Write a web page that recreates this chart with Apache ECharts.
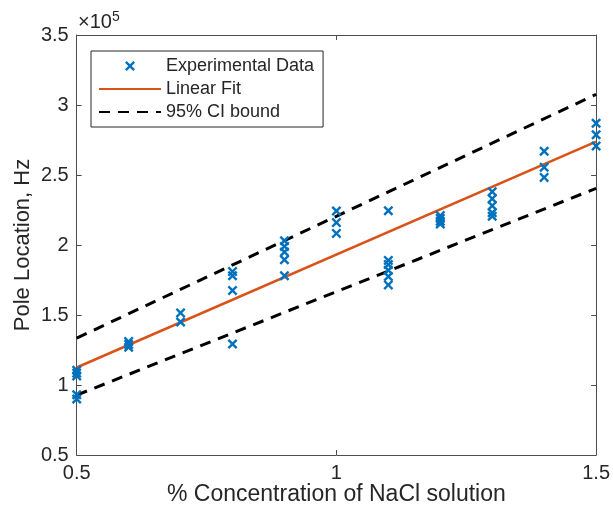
<!DOCTYPE html>
<html>
<head>
<meta charset="UTF-8">
<title>Pole location vs NaCl concentration</title>
<style>
  html, body { margin: 0; padding: 0; background: #fff; }
  #chart { width: 613px; height: 516px; }
</style>
</head>
<body>
<div id="chart"></div>
<script src="https://cdn.jsdelivr.net/npm/echarts@6/dist/echarts.min.js"></script>
<script>
// measured points: % NaCl concentration and pole location (units of 1e5 Hz)
var concentration = [
  0.5, 0.5, 0.5, 0.5, 0.5,
  0.6, 0.6, 0.6,
  0.7, 0.7,
  0.8, 0.8, 0.8, 0.8,
  0.9, 0.9, 0.9, 0.9, 0.9,
  1.0, 1.0, 1.0,
  1.1, 1.1, 1.1, 1.1, 1.1, 1.1,
  1.2, 1.2, 1.2, 1.2,
  1.3, 1.3, 1.3, 1.3, 1.3,
  1.4, 1.4, 1.4,
  1.5, 1.5, 1.5
];
var poleLocation = [
  1.105, 1.085, 1.065, 0.93, 0.90,
  1.31, 1.29, 1.27,
  1.515, 1.45,
  1.81, 1.78, 1.675, 1.293,
  2.03, 1.99, 1.95, 1.895, 1.78,
  2.243, 2.16, 2.083,
  2.245, 1.89, 1.86, 1.82, 1.775, 1.715,
  2.21, 2.19, 2.17, 2.15,
  2.38, 2.33, 2.28, 2.23, 2.205,
  2.67, 2.555, 2.483,
  2.87, 2.787, 2.707
];

// fit and confidence bounds, read at both ends of the x range
var lineX = [0.5, 1.5];
var fitY = [1.125, 2.738];
var ciUpperY = [1.335, 3.076];
var ciLowerY = [0.928, 2.405];

var xTicks = [0.5, 1, 1.5];
var yTicks = [0.5, 1, 1.5, 2, 2.5, 3, 3.5];

function pairs(xs, ys) {
  var res = [];
  for (var i = 0; i < xs.length; i++) res.push([xs[i], ys[i]]);
  return res;
}

var textColor = '#262626';
var axisColor = '#4d4d4d';
var font = '"Liberation Sans", Helvetica, Arial, sans-serif';
var crossPath = 'path://M0,1.7L1.7,0L5,3.3L8.3,0L10,1.7L6.7,5L10,8.3L8.3,10L5,6.7L1.7,10L0,8.3L3.3,5Z';

var chart = echarts.init(document.getElementById('chart'));

function boxAxis(pos, ticks, showLabel) {
  return {
    type: 'value',
    position: pos,
    min: ticks[0],
    max: ticks[ticks.length - 1],
    interval: ticks[1] - ticks[0],
    axisLine: { show: true, onZero: false, lineStyle: { color: axisColor, width: 1 } },
    axisTick: { show: true, inside: true, length: 5, lineStyle: { color: axisColor } },
    splitLine: { show: false },
    axisLabel: {
      show: showLabel,
      color: textColor,
      fontFamily: font,
      fontSize: 20,
      margin: 8
    }
  };
}

var xBottom = boxAxis('bottom', xTicks, true);
xBottom.name = '% Concentration of NaCl solution';
xBottom.nameLocation = 'middle';
xBottom.nameGap = 28;
xBottom.nameMoveOverlap = false;
xBottom.nameTextStyle = { color: textColor, fontFamily: font, fontSize: 23, verticalAlign: 'top' };
xBottom.axisLabel.formatter = function (v) { return String(v); };

var yLeft = boxAxis('left', yTicks, true);
yLeft.name = 'Pole Location, Hz';
yLeft.nameLocation = 'middle';
yLeft.nameGap = 43;
yLeft.nameMoveOverlap = false;
yLeft.nameTextStyle = { color: textColor, fontFamily: font, fontSize: 22 };

// line entries in the legend: hide the marker ECharts puts in the middle
var noMarker = { color: 'transparent', borderWidth: 0, opacity: 0 };

var option = {
  backgroundColor: '#fff',
  animation: false,
  grid: { left: 76.7, right: 16.3, top: 35, bottom: 61, containLabel: false },
  xAxis: [xBottom, boxAxis('top', xTicks, false)],
  yAxis: [yLeft, boxAxis('right', yTicks, false)],
  legend: {
    orient: 'vertical',
    left: 91,
    top: 51,
    width: 238,
    padding: [6, 9, 6, 7],
    itemGap: 5,
    itemWidth: 62,
    itemHeight: 10,
    backgroundColor: '#fff',
    borderColor: textColor,
    borderWidth: 1,
    borderRadius: 0,
    textStyle: { color: textColor, fontFamily: font, fontSize: 18 },
    data: [
      { name: 'Experimental Data' },
      { name: 'Linear Fit', itemStyle: noMarker },
      { name: '95% CI bound', itemStyle: noMarker }
    ]
  },
  graphic: [{
    type: 'text',
    left: 78,
    top: 10,
    style: {
      text: '{a|×10}{b|5}',
      rich: {
        a: { fontSize: 20, fontFamily: font, fill: textColor, verticalAlign: 'bottom' },
        b: { fontSize: 14, fontFamily: font, fill: textColor, verticalAlign: 'top', padding: [0, 0, 8, 0] }
      }
    }
  }],
  series: [
    {
      name: 'Linear Fit',
      type: 'line',
      data: pairs(lineX, fitY),
      symbol: 'none',
      lineStyle: { color: '#D95319', width: 2.5 },
      itemStyle: { color: '#D95319' },
      z: 3
    },
    {
      name: '95% CI bound',
      type: 'line',
      data: pairs(lineX, ciUpperY),
      symbol: 'none',
      lineStyle: { color: '#000', width: 3, type: [11, 8] },
      itemStyle: { color: '#000' },
      z: 3
    },
    {
      name: '95% CI bound',
      type: 'line',
      data: pairs(lineX, ciLowerY),
      symbol: 'none',
      lineStyle: { color: '#000', width: 3, type: [11, 8] },
      itemStyle: { color: '#000' },
      z: 3
    },
    {
      name: 'Experimental Data',
      type: 'scatter',
      data: pairs(concentration, poleLocation),
      symbol: crossPath,
      symbolSize: 10,
      itemStyle: { color: '#0072BD', opacity: 1 },
      z: 4
    }
  ]
};
chart.setOption(option);
</script>
</body>
</html>
